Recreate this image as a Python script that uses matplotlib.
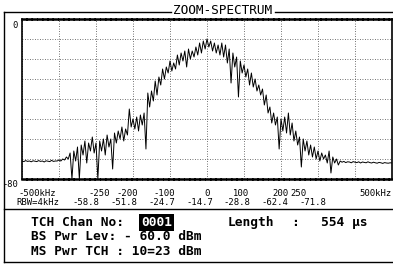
import numpy as np
import matplotlib
matplotlib.use('Agg')
import matplotlib.pyplot as plt
from matplotlib.lines import Line2D

# spectrum trace, dB, sampled every 5 kHz from -500 to +500 kHz
level_db = [
    -71.0, -71.3, -70.8, -71.2, -71.0, -71.4, -70.9, -71.1, -71.3, -70.8,
    -71.2, -71.0, -71.5, -70.9, -71.1, -71.3, -70.7, -71.2, -71.0, -71.0,
    -70.5, -71.0, -70.0, -70.5, -69.0, -70.0, -67.0, -80.0, -66.0, -71.0,
    -64.0, -80.0, -63.0, -68.0, -61.0, -72.0, -62.0, -66.0, -59.0, -67.0,
    -62.0, -80.0, -61.0, -66.0, -60.0, -68.0, -58.0, -64.0, -60.0, -75.0,
    -57.0, -62.0, -56.0, -60.0, -54.0, -61.0, -55.0, -58.0, -45.0, -54.0,
    -50.0, -55.0, -49.0, -56.0, -48.0, -53.0, -47.0, -65.0, -37.0, -44.0,
    -36.0, -41.0, -31.0, -38.0, -29.0, -33.0, -25.0, -30.0, -24.0, -27.0,
    -21.0, -26.0, -22.0, -25.0, -18.0, -23.0, -17.0, -21.0, -16.0, -24.0,
    -15.0, -20.0, -16.0, -19.0, -14.0, -18.0, -12.0, -17.0, -11.0, -15.0,
    -10.0, -14.0, -11.0, -16.0, -12.0, -17.0, -13.0, -18.0, -12.0, -19.0,
    -13.0, -22.0, -15.0, -32.0, -17.0, -24.0, -19.0, -39.0, -21.0, -27.0,
    -23.0, -29.0, -25.0, -33.0, -27.0, -34.0, -30.0, -36.0, -33.0, -38.0,
    -35.0, -43.0, -38.0, -47.0, -44.0, -52.0, -47.0, -53.0, -49.0, -65.0,
    -50.0, -56.0, -49.0, -57.0, -47.0, -58.0, -52.0, -61.0, -56.0, -63.0,
    -59.0, -74.0, -60.0, -66.0, -61.0, -68.0, -63.0, -69.0, -64.0, -70.0,
    -66.0, -71.0, -67.0, -70.0, -68.0, -72.0, -66.0, -77.0, -69.0, -72.0,
    -70.0, -73.0, -71.0, -71.6, -71.2, -71.8, -71.4, -71.5, -71.9, -71.3,
    -71.6, -71.8, -71.4, -72.0, -71.5, -71.7, -71.9, -71.4, -71.8, -72.0,
    -71.6, -71.9, -72.1, -71.7, -71.9, -72.2, -71.8, -72.0, -72.1, -71.9,
    -72.0,
]
freq_khz = np.linspace(-500, 500, len(level_db))

x_tick_labels = ['-500kHz', '-250', '-200', '-100', '0', '100', '200', '250']
rbw_values = ['-58.8', '-51.8', '-24.7', '-14.7', '-28.8', '-62.4', '-71.8']

W, H = 393, 264
fig = plt.figure(figsize=(W / 100, H / 100), dpi=100)
mono = 'DejaVu Sans Mono'

def fx(x):
    return x / W

def fy(y):
    return 1 - y / H

ax = fig.add_axes([fx(22), fy(179), 370 / W, 160 / H])
ax.plot(freq_khz, level_db, color='black', linewidth=0.7)
ax.set_xlim(-500, 500)
ax.set_ylim(-80, 0)
ax.set_xticks(np.arange(-500, 501, 100))
ax.set_yticks(np.arange(-80, 1, 10))
ax.grid(True, color='#444444', linestyle=(0, (1, 2)), linewidth=0.6)
ax.tick_params(left=False, bottom=False, labelleft=False, labelbottom=False)
for side in ['top', 'bottom']:
    ax.spines[side].set_linewidth(1.8)
    ax.spines[side].set_linestyle((0, (1.5, 0.6)))
for side in ['left', 'right']:
    ax.spines[side].set_linewidth(1.2)
    ax.spines[side].set_linestyle((0, (1, 1)))

# frame lines
frame = [((4, 171), (12, 12)), ((275, 393), (12, 12)), ((4, 4), (12, 262)),
         ((4, 393), (262, 262)), ((4, 393), (209, 209))]
for xs, ys in frame:
    fig.add_artist(Line2D([fx(xs[0]), fx(xs[1])], [fy(ys[0]), fy(ys[1])],
                          color='black', linewidth=1.0))

fig.text(fx(223), fy(11), 'ZOOM-SPECTRUM', family=mono, fontsize=9.2,
         ha='center', va='center')

# y labels
fig.text(fx(12), fy(28), '0', family=mono, fontsize=6.3, ha='left', va='baseline')
fig.text(fx(2), fy(187), '-80', family=mono, fontsize=6.3, ha='left', va='baseline')

# x labels (two rows)
sfs = 6.4
x_label_pos = [18.5, 88, 116, 153, 204, 233, 272, 290]
for lab, xp in zip(x_tick_labels, x_label_pos):
    fig.text(fx(xp), fy(195.5), lab, family=mono, fontsize=sfs, ha='left', va='baseline')
fig.text(fx(392), fy(195.5), '500kHz', family=mono, fontsize=sfs, ha='right', va='baseline')
fig.text(fx(16), fy(205), 'RBW=4kHz', family=mono, fontsize=sfs, ha='left', va='baseline')
for k, val in enumerate(rbw_values):
    fig.text(fx(72.7 + 37.8 * k), fy(205), val, family=mono, fontsize=sfs,
             ha='left', va='baseline')

# status text
fs = 9.3
fig.text(fx(31), fy(226), 'TCH Chan No:', family=mono, fontsize=fs,
         fontweight='bold', va='baseline')
fig.text(fx(141), fy(226), '0001', family=mono, fontsize=fs, fontweight='bold',
         color='white', va='baseline',
         bbox=dict(boxstyle='square,pad=0.12', fc='black', ec='none'))
fig.text(fx(228), fy(226), 'Length', family=mono, fontsize=fs,
         fontweight='bold', va='baseline')
fig.text(fx(291), fy(226), ':', family=mono, fontsize=fs,
         fontweight='bold', va='baseline')
fig.text(fx(321), fy(226), '554 μs', family=mono, fontsize=fs,
         fontweight='bold', va='baseline')
fig.text(fx(31), fy(240.5), 'BS Pwr Lev: - 60.0 dBm', family=mono, fontsize=fs,
         fontweight='bold', va='baseline')
fig.text(fx(31), fy(255), 'MS Pwr TCH : 10=23 dBm', family=mono, fontsize=fs,
         fontweight='bold', va='baseline')

fig.savefig('out.png', dpi=100)
